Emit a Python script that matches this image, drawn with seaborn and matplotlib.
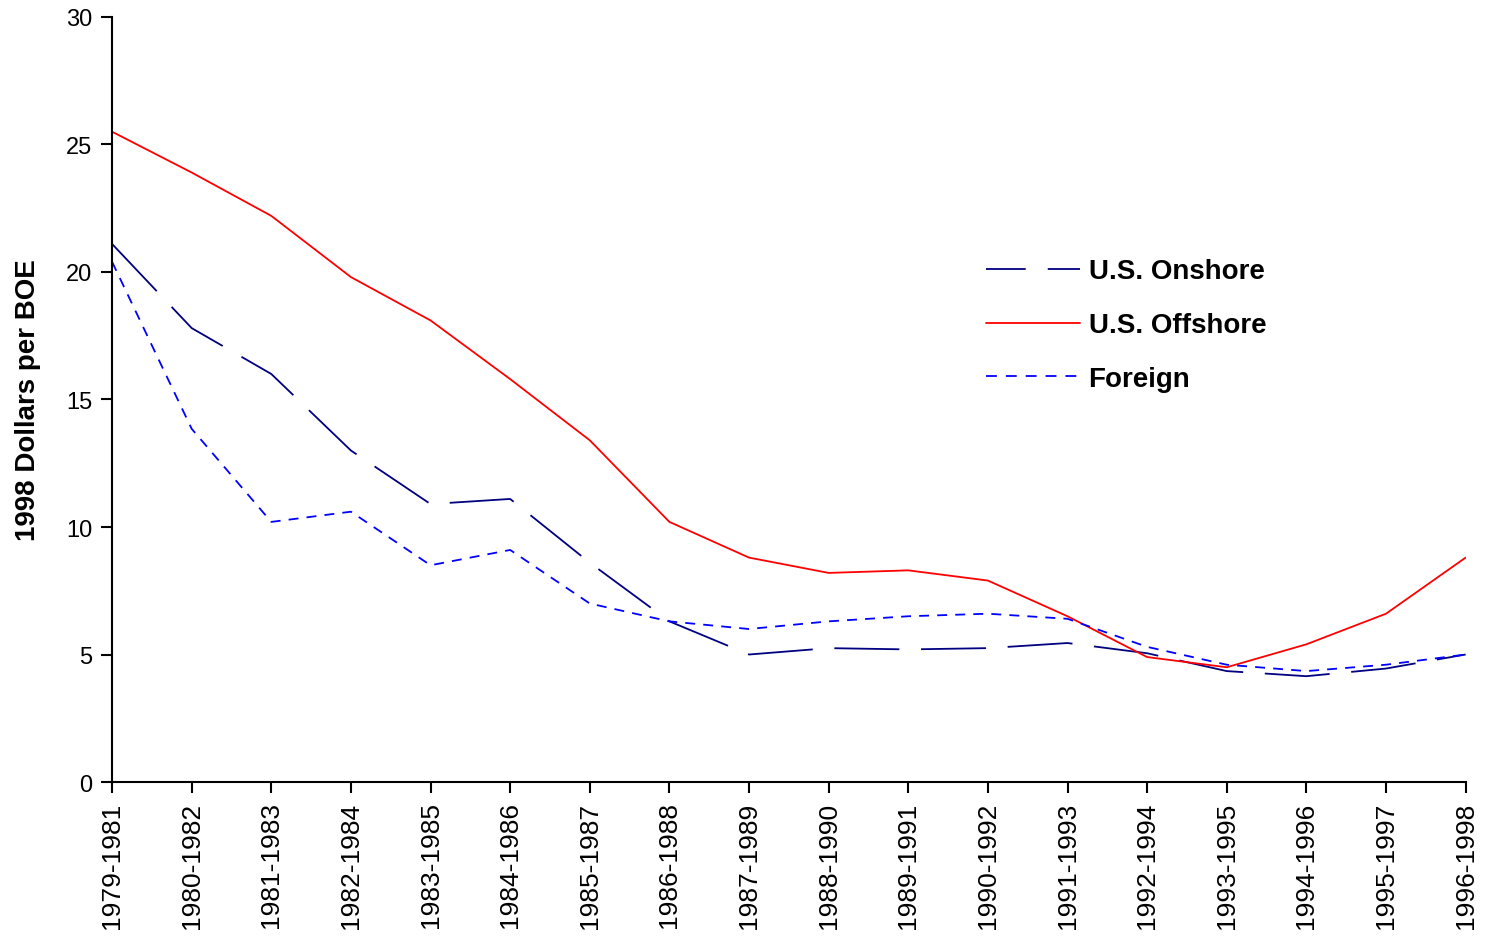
import matplotlib
matplotlib.use("Agg")
import matplotlib.pyplot as plt
import seaborn as sns
import pandas as pd

periods = ["1979-1981", "1980-1982", "1981-1983", "1982-1984", "1983-1985",
           "1984-1986", "1985-1987", "1986-1988", "1987-1989", "1988-1990",
           "1989-1991", "1990-1992", "1991-1993", "1992-1994", "1993-1995",
           "1994-1996", "1995-1997", "1996-1998"]

onshore = [21.1, 17.8, 16.0, 13.0, 10.9, 11.1, 8.6, 6.3, 5.0, 5.25,
           5.2, 5.25, 5.45, 5.05, 4.35, 4.15, 4.45, 5.0]
offshore = [25.5, 23.9, 22.2, 19.8, 18.1, 15.8, 13.4, 10.2, 8.8, 8.2,
            8.3, 7.9, 6.5, 4.9, 4.5, 5.4, 6.6, 8.8]
foreign = [20.4, 13.85, 10.2, 10.6, 8.5, 9.1, 7.0, 6.3, 6.0, 6.3,
           6.5, 6.6, 6.4, 5.3, 4.6, 4.35, 4.6, 5.0]

series_names = ["U.S. Onshore", "U.S. Offshore", "Foreign"]
y_ticks = [0, 5, 10, 15, 20, 25, 30]

frames = []
for name, vals in zip(series_names, [onshore, offshore, foreign]):
    frames.append(pd.DataFrame({"period": periods, "value": vals, "series": name}))
df = pd.concat(frames, ignore_index=True)
df["pos"] = df["period"].map({p: i for i, p in enumerate(periods)})

sns.set_theme(style="white")
plt.rcParams["font.family"] = ["Liberation Sans", "DejaVu Sans"]
plt.rcParams["text.color"] = "black"
plt.rcParams["axes.labelcolor"] = "black"

fig = plt.figure(figsize=(14.94, 9.45), dpi=100)
ax = fig.add_axes([0.075, 0.1714, 0.906, 0.8096])

palette = {"U.S. Onshore": "#000080", "U.S. Offshore": "#FF0000", "Foreign": "#0000FF"}
dashes = {"U.S. Onshore": (36, 12), "U.S. Offshore": "", "Foreign": (5.5, 4.5)}

sns.lineplot(data=df, x="pos", y="value", hue="series", style="series",
             hue_order=series_names, style_order=series_names,
             palette=palette, dashes=dashes, linewidth=1.3, ax=ax,
             estimator=None, sort=False)

ax.set_xlim(0, len(periods) - 1)
ax.set_ylim(0, 30)
ax.set_xticks(range(len(periods)))
ax.set_xticklabels(periods, rotation=90, fontsize=19)
ax.set_yticks(y_ticks)
ax.set_yticklabels([str(t) for t in y_ticks], fontsize=17)
ax.set_xlabel("")
ax.set_ylabel("1998 Dollars per BOE", fontsize=20, fontweight="bold",
              labelpad=18, color="black")

for s in ["top", "right"]:
    ax.spines[s].set_visible(False)
for s in ["left", "bottom"]:
    ax.spines[s].set_color("black")
    ax.spines[s].set_linewidth(1.5)
ax.tick_params(axis="both", which="both", direction="out", length=8, width=1.5,
               color="black", left=True, bottom=True, labelcolor="black")
ax.tick_params(axis="x", pad=6)
ax.tick_params(axis="y", pad=6)
ax.grid(False)

leg = ax.legend(loc="upper left", bbox_to_anchor=(0.627, 0.717), frameon=False,
                prop={"size": 20, "weight": "bold"}, handlelength=3.4,
                handletextpad=0.3, labelspacing=1.0)
for t in leg.get_texts():
    t.set_color("black")
leg_lines = leg.get_lines()
leg_lines[0].set_dashes((22, 12.2))
leg_lines[2].set_dashes((6.0, 5.0))

fig.savefig("out.png", dpi=100, facecolor="white")
